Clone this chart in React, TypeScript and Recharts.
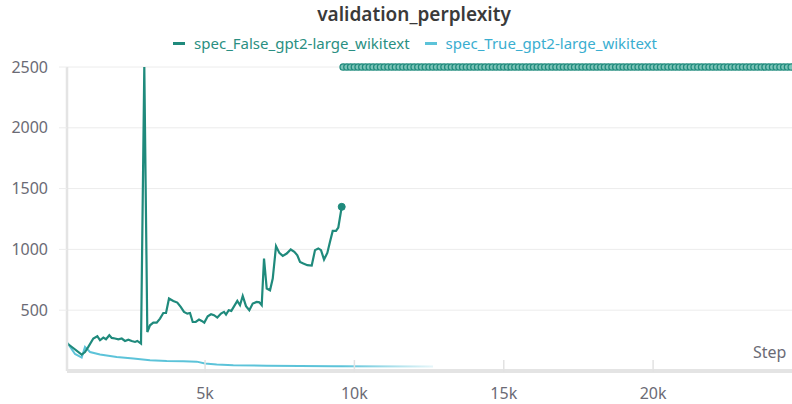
import { ComposedChart, Line, XAxis, YAxis, CartesianGrid, ReferenceDot } from "recharts";

// spec_False run (teal)
const falseSteps = [
  380, 422, 870, 981, 1091, 1259, 1393, 1483, 1594, 1684, 1795, 1875, 1985, 2096, 2210, 2320, 2431, 2544,
  2655, 2732, 2856, 2966, 3067, 3157, 3268, 3381, 3492, 3602, 3693, 3793, 3937, 4071, 4185, 4295, 4406,
  4496, 4587, 4687, 4798, 4888, 4975, 5089, 5200, 5300, 5410, 5534, 5635, 5702, 5792, 5879, 5980, 6080,
  6170, 6261, 6371, 6482, 6596, 6730, 6817, 6897, 6974, 7064, 7175, 7266, 7376, 7487, 7601, 7734, 7868,
  7989, 8089, 8179, 8290, 8424, 8571, 8681, 8792, 8882, 8983, 9093, 9183, 9274, 9384, 9461, 9575,
];
const falseValues = [
  228, 220, 135, 156, 198, 267, 286, 253, 275, 261, 294, 272, 267, 261, 267, 247, 258, 247,
  239, 247, 225, 2500, 321, 376, 398, 398, 431, 477, 477, 596, 576, 563, 527, 486, 472,
  477, 403, 403, 423, 412, 398, 450, 467, 459, 439, 472, 486, 464, 500, 494, 535, 576,
  541, 617, 533, 500, 555, 568, 565, 541, 925, 678, 664, 760, 1027, 971, 947, 966, 999,
  980, 952, 897, 884, 870, 867, 994, 1008, 994, 917, 971, 1062, 1152, 1152, 1180, 1350,
];

// spec_True run (light blue)
const trueSteps = [380, 646, 870, 981, 1148, 1483, 2042, 2598, 3157, 3716, 4272, 4721, 4999, 5390, 5946, 7064, 8179, 9294, 12632];
const trueValues = [235, 140, 110, 198, 156, 135, 115, 102, 88, 82, 80, 77, 61, 53, 47, 44, 41, 39, 37];

// spec_False steps logged past the top of the axis (inf / out of range)
const overflowSteps = [
  9625, 9750, 9875,
  10000, 10125, 10250, 10375, 10500, 10625, 10750, 10875,
  11000, 11125, 11250, 11375, 11500, 11625, 11750, 11875,
  12000, 12125, 12250, 12375, 12500, 12625, 12750, 12875,
  13000, 13125, 13250, 13375, 13500, 13625, 13750, 13875,
  14000, 14125, 14250, 14375, 14500, 14625, 14750, 14875,
  15000, 15125, 15250, 15375, 15500, 15625, 15750, 15875,
  16000, 16125, 16250, 16375, 16500, 16625, 16750, 16875,
  17000, 17125, 17250, 17375, 17500, 17625, 17750, 17875,
  18000, 18125, 18250, 18375, 18500, 18625, 18750, 18875,
  19000, 19125, 19250, 19375, 19500, 19625, 19750, 19875,
  20000, 20125, 20250, 20375, 20500, 20625, 20750, 20875,
  21000, 21125, 21250, 21375, 21500, 21625, 21750, 21875,
  22000, 22125, 22250, 22375, 22500, 22625, 22750, 22875,
  23000, 23125, 23250, 23375, 23500, 23625, 23750, 23875,
  24000, 24125, 24250, 24375, 24500, 24625,
];
const overflowValue = 2500;

const xTicks = [5000, 10000, 15000, 20000];
const yTicks = [500, 1000, 1500, 2000, 2500];

const TEAL = "#1f8a7c";
const BLUE = "#5cc3d9";
const FONT = "'Noto Sans', sans-serif";

const falseData = falseSteps.map((s, i) => ({ step: s, value: falseValues[i] }));
const trueData = trueSteps.map((s, i) => ({ step: s, value: trueValues[i] }));
const overflowData = overflowSteps.map((s) => ({ step: s, value: overflowValue }));

const XTick = (props: any) => {
  const { x, y, payload } = props;
  return (
    <g>
      <line x1={x} x2={x} y1={y - 11} y2={y + 1} stroke="#e2e2e2" strokeWidth={1.5} />
      <text x={x} y={y + 28} textAnchor="middle" fill="#6b6b75" fontSize={16} fontFamily={FONT}>
        {payload.value / 1000}k
      </text>
    </g>
  );
};

export default function App() {
  return (
    <div style={{ position: "absolute", left: 0, top: 0, width: 792, height: 404, background: "#fff", overflow: "hidden" }}>
      <div
        style={{
          position: "absolute", top: 1, left: 214, width: 400, textAlign: "center",
          fontFamily: FONT, fontSize: 19, fontWeight: 600, color: "#3a3a3a",
        }}
      >
        validation_perplexity
      </div>
      <div
        style={{
          position: "absolute", top: 33, left: 115, width: 600, display: "flex", justifyContent: "center",
          gap: 15, fontFamily: FONT, fontSize: 15,
        }}
      >
        <span style={{ display: "flex", alignItems: "center", gap: 9, color: "#2a8f82" }}>
          <span style={{ width: 12, height: 3, background: TEAL, display: "inline-block" }} />
          spec_False_gpt2-large_wikitext
        </span>
        <span style={{ display: "flex", alignItems: "center", gap: 9, color: "#3aaed0" }}>
          <span style={{ width: 12, height: 3, background: BLUE, display: "inline-block" }} />
          spec_True_gpt2-large_wikitext
        </span>
      </div>
      <div style={{ position: "absolute", left: 753, top: 341, fontFamily: FONT, fontSize: 16, color: "#6b6b75" }}>Step</div>
      <ComposedChart width={792} height={404} margin={{ top: 67, right: 0, bottom: 0, left: 0 }}>
        <defs>
          <linearGradient id="blueFade" x1="0" y1="0" x2="1" y2="0">
            <stop offset="0.75" stopColor={BLUE} stopOpacity={1} />
            <stop offset="1" stopColor={BLUE} stopOpacity={0.15} />
          </linearGradient>
        </defs>
        <CartesianGrid vertical={false} stroke="#ececec" />
        <XAxis
          dataKey="step"
          type="number"
          domain={[378, 24650]}
          ticks={xTicks}
          height={33}
          tickSize={0}
          tickMargin={0}
          tickLine={false}
          axisLine={{ stroke: "#e4e4e4", strokeWidth: 4 }}
          tick={<XTick />}
        />
        <YAxis
          type="number"
          domain={[0, 2500]}
          ticks={yTicks}
          width={67}
          tickSize={8}
          tickMargin={11}
          tickLine={{ stroke: "#ececec" }}
          axisLine={{ stroke: "#e4e4e4", strokeWidth: 2.5 }}
          tick={{ fill: "#6b6b75", fontSize: 16, fontFamily: FONT }}
        />
        <Line
          data={trueData}
          dataKey="value"
          type="linear"
          stroke="url(#blueFade)"
          strokeWidth={2}
          dot={false}
          isAnimationActive={false}
        />
        <Line
          data={falseData}
          dataKey="value"
          type="linear"
          stroke={TEAL}
          strokeWidth={2.2}
          dot={false}
          isAnimationActive={false}
        />
        <Line
          data={overflowData}
          dataKey="value"
          stroke="none"
          dot={{ r: 3.2, stroke: TEAL, strokeWidth: 1.3, fill: "#7cc4b8" }}
          isAnimationActive={false}
        />
        <ReferenceDot
          x={falseSteps[falseSteps.length - 1]}
          y={falseValues[falseValues.length - 1]}
          r={3.5}
          fill={TEAL}
          stroke={TEAL}
        />
      </ComposedChart>
    </div>
  );
}
